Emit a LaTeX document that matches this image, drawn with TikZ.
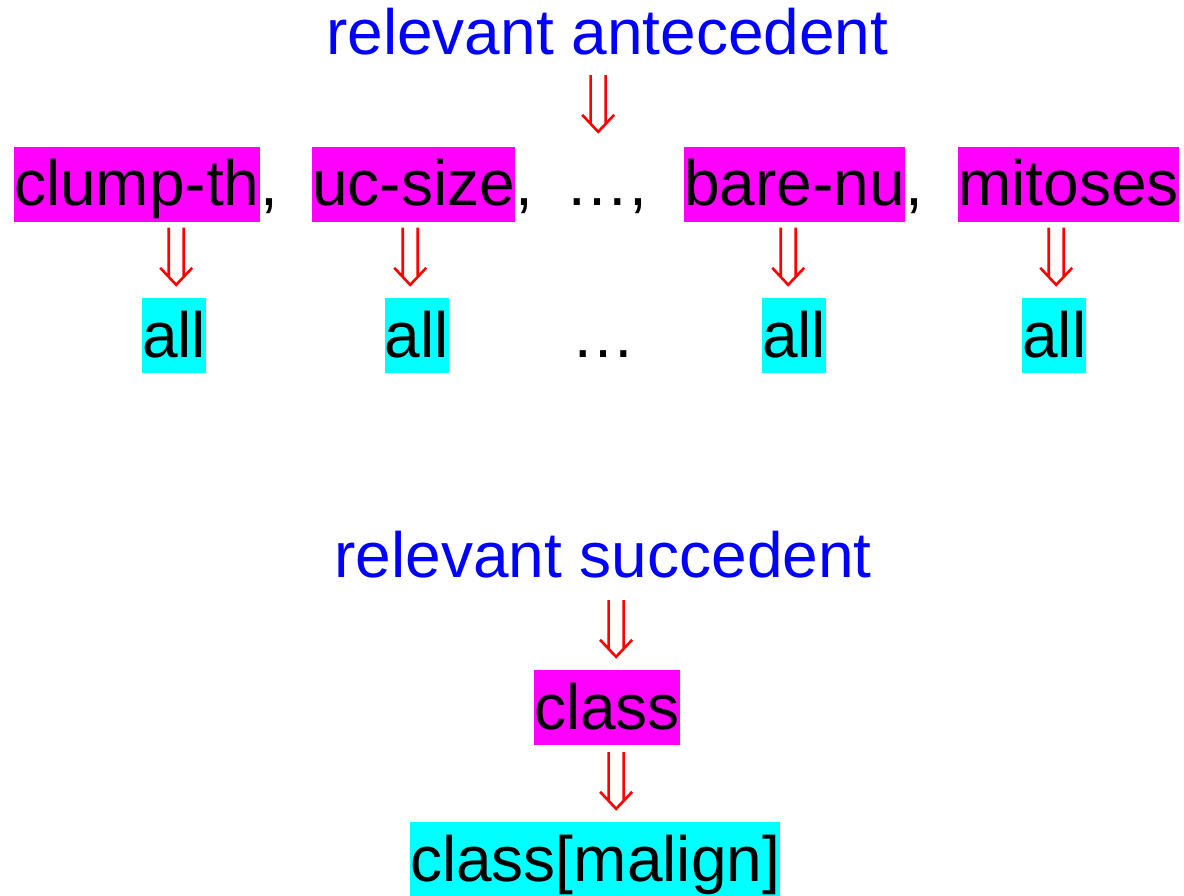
\documentclass[tikz,border=0pt]{standalone}
\usepackage{fontspec}
\setmainfont{Liberation Sans}
\usetikzlibrary{calc}
\definecolor{hlmag}{RGB}{255,0,255}
\definecolor{hlcyan}{RGB}{0,255,255}
\begin{document}
\begin{tikzpicture}[x=1pt,y=1pt,
  txt/.style={font=\fontsize{64}{77}\selectfont, inner sep=0pt,
              text height=59pt, text depth=16pt, anchor=base west},
  attr/.style={txt, fill=hlmag},
  val/.style={txt, fill=hlcyan},
  head/.style={txt, text=blue},
  % a red double-stroke down arrow, drawn at the x of its target point
  dn/.style={draw=red, line width=2.6pt, to path={
     let \p1=(\tikztostart), \p2=(\tikztotarget) in
     (\x2-7.5pt,\y1) -- (\x2-7.5pt,\y2+8pt)
     (\x2+7.5pt,\y1) -- (\x2+7.5pt,\y2+8pt)
     (\x2-16pt,\y2+17pt) -- (\x2,\y2) -- (\x2+16pt,\y2+17pt)}}
]
\fill[white] (0,0) rectangle (1184,-895);
\useasboundingbox (0,0) rectangle (1184,-895);

% antecedent row
\node[head] (ante) at (326,-54.5) {relevant antecedent};
\node[attr] (clump) at (14,-205.5) {clump-th};
\node[txt] (k1) at (clump.base east) {,};
\node[attr] (ucsize) at (312,-205.5) {uc-size};
\node[txt] (k2) at (ucsize.base east) {,};
\node[txt] (dots) at (565.6,-205.5) {…,};
\node[attr] (bare) at (684,-205.5) {bare-nu};
\node[txt] (k3) at (bare.base east) {,};
\node[attr] (mit) at (958,-205.5) {mitoses};

% values
\node[val] (all1) at (142,-357) {all};
\node[val] (all2) at (384.5,-357) {all};
\node[txt] (dots2) at (571.6,-357) {…};
\node[val] (all3) at (762,-357) {all};
\node[val] (all4) at (1022,-357) {all};

% succedent column
\node[head] (succ) at (334.3,-577) {relevant succedent};
\node[attr] (cls) at (534,-729) {class};
\node[val] (clsm) at (410,-881) {class[malign]};

% arrows
\draw[dn] ($(ante.south)+(0,-4.5)$) to ($(dots.north)+(-8.5,14.5)$);
\draw[dn] ($(clump.south)+(0,-6)$) to ($(all1.north)+(2,13)$);
\draw[dn] ($(ucsize.south)+(0,-6)$) to ($(all2.north)+(-6.5,13)$);
\draw[dn] ($(bare.south)+(0,-6)$) to ($(all3.north)+(-6,13)$);
\draw[dn] ($(mit.south)+(0,-6)$) to ($(all4.north)+(2,13)$);
\draw[dn] ($(succ.south)+(0,-7)$) to ($(cls.north)+(9,13)$);
\draw[dn] ($(cls.south)+(0,-7)$) to ($(clsm.north)+(21,13)$);
\end{tikzpicture}
\end{document}
